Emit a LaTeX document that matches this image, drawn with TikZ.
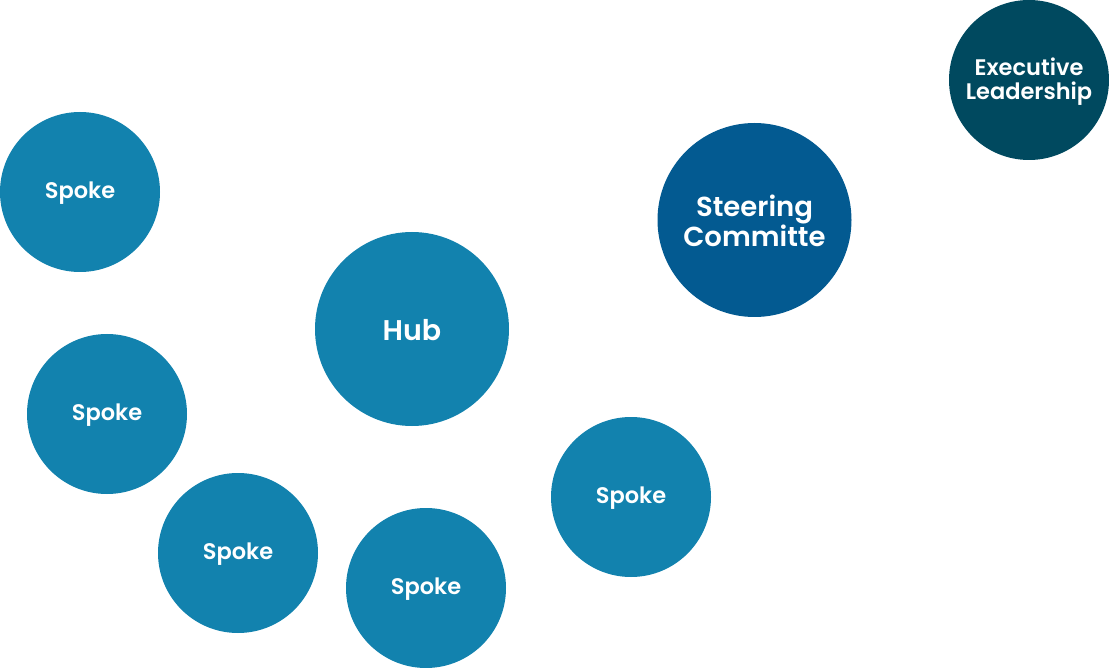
\documentclass[tikz,border=0pt]{standalone}
\usepackage{fontspec}
\setmainfont{Poppins}
\newfontfamily\semi{Poppins SemiBold}
\definecolor{spokec}{HTML}{1282AE}
\definecolor{steerc}{HTML}{035A91}
\definecolor{execc}{HTML}{00495F}
\begin{document}
\begin{tikzpicture}[x=1pt,y=-1pt,
  bub/.style={circle,fill=#1,text=white,inner sep=0pt,align=center},
  small/.style={minimum size=160pt},
  big/.style={minimum size=194pt},
  lbl/.style={text=white,align=center,inner sep=0pt}]
\useasboundingbox (0,0) rectangle (1109,668);
\node[bub=execc,small] (exec) at (1029,80) {};
\node[lbl,font=\semi\fontsize{22.5}{24}\selectfont] (exect) at ([yshift=-2pt]exec.center) {Executive\\Leadership};
\node[bub=steerc,big] (steer) at (754.5,220) {};
\node[lbl,font=\semi\fontsize{27.5}{30}\selectfont] (steert) at ([yshift=-1pt]steer.center) {Steering\\Committe};
\node[bub=spokec,big] (hub) at (412,329) {};
\node[lbl,font=\semi\fontsize{28.5}{30}\selectfont] (hubt) at ([yshift=-1pt]hub.center) {Hub};
\foreach \n/\p in {s1/{(80,192)},s2/{(107,414)},s3/{(238,553)},s4/{(426,588)},s5/{(631,497)}}{
  \node[bub=spokec,small] (\n) at \p {};
  \node[lbl,font=\semi\fontsize{22.5}{24}\selectfont] (\n t) at ([yshift=-1.5pt]\n.center) {Spoke};
}
\end{tikzpicture}
\end{document}
